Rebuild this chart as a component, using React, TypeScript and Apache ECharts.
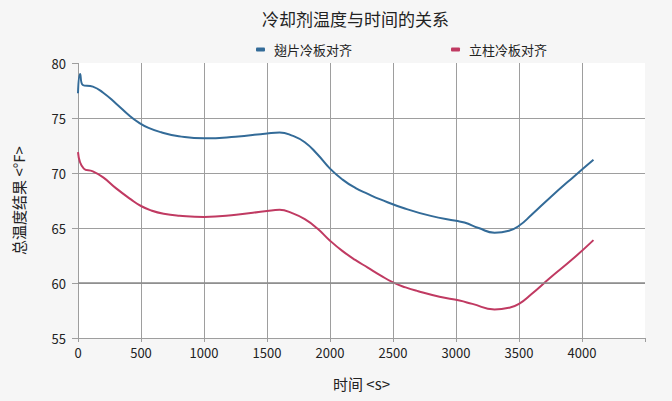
import React, { useEffect, useRef } from "react";
import * as echarts from "echarts";

const titleText = "冷却剂温度与时间的关系";
const seriesNames = ["翅片冷板对齐", "立柱冷板对齐"];
const xAxisName = "时间 <s>";
const yAxisName = "总温度结果 <°F>";

const finTimes = [0, 17, 38, 118, 200, 303, 409, 480, 560, 660, 800, 1000, 1250, 1500, 1600, 1700, 1800, 1900, 2000, 2100, 2200, 2300, 2400, 2600, 2800, 3000, 3067, 3180, 3306, 3420, 3500, 3600, 3750, 3928, 4091];
const finValues = [77.25, 79.0, 78.0, 77.85, 77.3, 76.3, 75.2, 74.6, 74.1, 73.7, 73.35, 73.15, 73.3, 73.6, 73.68, 73.4, 72.8, 71.7, 70.4, 69.4, 68.65, 68.1, 67.6, 66.75, 66.1, 65.65, 65.5, 65.0, 64.57, 64.75, 65.2, 66.2, 67.8, 69.6, 71.2];

const pinTimes = [0, 46, 118, 200, 303, 420, 500, 580, 680, 806, 1000, 1255, 1500, 1600, 1700, 1800, 1900, 2000, 2100, 2200, 2300, 2400, 2500, 2600, 2700, 2869, 3028, 3130, 3306, 3420, 3500, 3600, 3750, 3928, 4091];
const pinValues = [71.9, 70.4, 70.15, 69.6, 68.6, 67.6, 67.0, 66.6, 66.3, 66.12, 66.0, 66.2, 66.55, 66.65, 66.35, 65.8, 64.95, 63.85, 62.9, 62.1, 61.4, 60.7, 60.05, 59.6, 59.25, 58.75, 58.4, 58.1, 57.6, 57.75, 58.1, 59.0, 60.5, 62.2, 63.9];

const colors = ["#336b98", "#c03a62"];
const gridColor = "#9e9e9e";
const font = "'Noto Sans CJK SC', 'Noto Sans', sans-serif";

export default function App() {
  const ref = useRef<HTMLDivElement>(null);
  useEffect(() => {
    if (!ref.current) return;
    const chart = echarts.init(ref.current, undefined, { renderer: "svg" });
    const pair = (ts: number[], vs: number[]) => ts.map((t, i) => [t, vs[i]]);
    chart.setOption({
      animation: false,
      backgroundColor: "#f6f6f6",
      textStyle: { fontFamily: font },
      title: {
        text: titleText,
        left: 257,
        top: 5,
        textStyle: { fontSize: 17, fontWeight: "normal", color: "#222", fontFamily: font },
      },
      legend: {
        top: 38,
        left: 251,
        itemGap: 99,
        itemWidth: 9,
        itemHeight: 4,
        icon: "roundRect",
        textStyle: { fontSize: 13, color: "#222", fontFamily: font, padding: [0, 0, 0, 4] },
        data: seriesNames,
      },
      grid: {
        left: 78,
        right: 27,
        top: 63,
        bottom: 63,
        show: true,
        backgroundColor: "#ffffff",
        borderWidth: 0,
      },
      xAxis: {
        type: "value",
        min: 0,
        max: 4500,
        interval: 500,
        name: xAxisName,
        nameLocation: "middle",
        nameGap: 38,
        nameTextStyle: { fontSize: 15, color: "#222", fontFamily: font },
        axisLine: { show: true, lineStyle: { color: gridColor, width: 1 } },
        axisTick: { show: true, length: 4, lineStyle: { color: gridColor } },
        axisLabel: {
          fontSize: 13,
          color: "#222",
          margin: 8,
          formatter: (v: number) => (v >= 4500 ? "" : String(v)),
        },
        splitLine: { show: true, showMaxLine: false, lineStyle: { color: gridColor, width: 1 } },
      },
      yAxis: {
        type: "value",
        min: 55,
        max: 80,
        interval: 5,
        name: yAxisName,
        nameLocation: "middle",
        nameGap: 52,
        nameTextStyle: { fontSize: 15, color: "#222", fontFamily: font },
        axisLine: { show: false },
        axisTick: { show: true, length: 6, lineStyle: { color: gridColor } },
        axisLabel: { fontSize: 13, color: "#222", margin: 12 },
        splitLine: { show: true, showMaxLine: false, lineStyle: { color: gridColor, width: 1 } },
      },
      series: [
        {
          name: seriesNames[0],
          type: "line",
          data: pair(finTimes, finValues),
          smooth: 0.5,
          showSymbol: false,
          symbol: "none",
          lineStyle: { color: colors[0], width: 2 },
          itemStyle: { color: colors[0] },
          markLine: {
            silent: true,
            symbol: "none",
            label: { show: false },
            lineStyle: { color: "#8a8a8a", width: 1.6, type: "solid" },
            data: [{ yAxis: 60 }],
          },
        },
        {
          name: seriesNames[1],
          type: "line",
          data: pair(pinTimes, pinValues),
          smooth: 0.5,
          showSymbol: false,
          symbol: "none",
          lineStyle: { color: colors[1], width: 2 },
          itemStyle: { color: colors[1] },
        },
      ],
    });
    return () => chart.dispose();
  }, []);
  return (
    <div
      ref={ref}
      style={{ position: "fixed", left: 0, top: 0, width: 672, height: 401 }}
    />
  );
}
